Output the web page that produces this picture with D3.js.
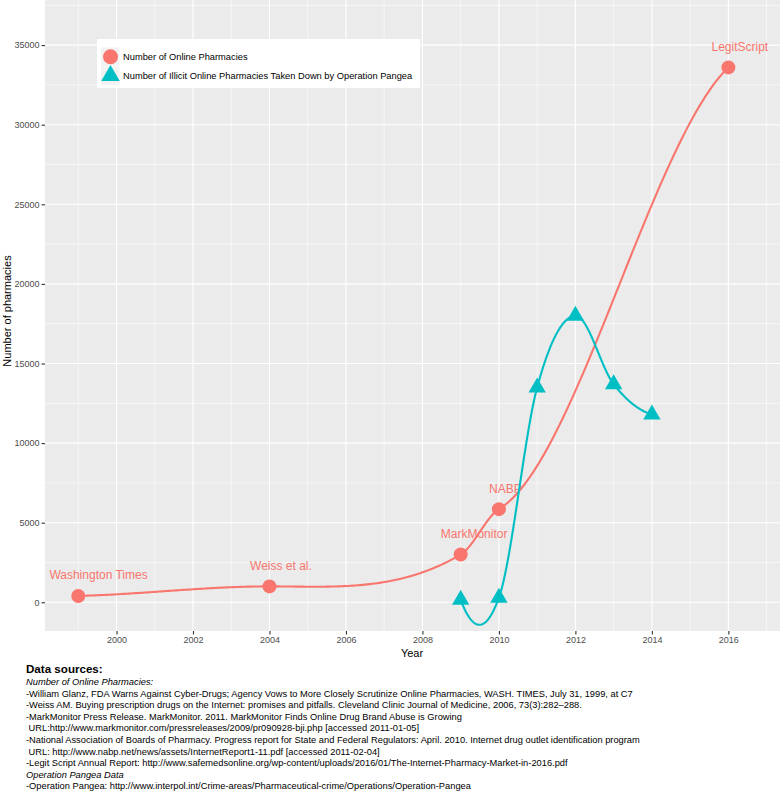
<!DOCTYPE html>
<html>
<head>
<meta charset="utf-8">
<script src="https://cdn.jsdelivr.net/npm/d3@7"></script>
<style>
  html, body { margin: 0; padding: 0; background: #ffffff; }
  svg { display: block; font-family: "Liberation Sans", Arial, Helvetica, sans-serif; }
</style>
</head>
<body>
<svg id="chart" width="781" height="795"></svg>
<script>
// ---------------- data ----------------
const onlineYears   = [1999, 2004, 2009, 2010, 2016];
const onlineValues  = [400, 1000, 3000, 5850, 33600];
const onlineLabels  = ["Washington Times", "Weiss et al.", "MarkMonitor", "NABP", "LegitScript"];
const onlineLabelYears = [1999.53, 2004.3, 2009.35, 2010.17, 2016.3];
const labelNudgeValue = 1300;

const pangeaYears  = [2009, 2010, 2011, 2012, 2013, 2014];
const pangeaValues = [153, 290, 13500, 18000, 13700, 11800];

const seriesNames = ["Number of Online Pharmacies", "Number of Illicit Online Pharmacies Taken Down by Operation Pangea"];
const xTickValues = [2000, 2002, 2004, 2006, 2008, 2010, 2012, 2014, 2016];
const xMinorValues = [1999, 2001, 2003, 2005, 2007, 2009, 2011, 2013, 2015, 2017];
const yTickValues = [0, 5000, 10000, 15000, 20000, 25000, 30000, 35000];
const yMinorValues = [2500, 7500, 12500, 17500, 22500, 27500, 32500, 37500];

const xTitle = "Year";
const yTitle = "Number of pharmacies";

const sourceLines = [
  {t: "Data sources:", style: "bold"},
  {t: "Number of Online Pharmacies:", style: "italic"},
  {t: "-William Glanz, FDA Warns Against Cyber-Drugs; Agency Vows to More Closely Scrutinize Online Pharmacies, WASH. TIMES, July 31, 1999, at C7", style: "normal"},
  {t: "-Weiss AM. Buying prescription drugs on the Internet: promises and pitfalls. Cleveland Clinic Journal of Medicine, 2006, 73(3):282\u2013288.", style: "normal"},
  {t: "-MarkMonitor Press Release. MarkMonitor. 2011. MarkMonitor Finds Online Drug Brand Abuse is Growing", style: "normal"},
  {t: " URL:http://www.markmonitor.com/pressreleases/2009/pr090928-bji.php [accessed 2011-01-05]", style: "normal"},
  {t: "-National Association of Boards of Pharmacy. Progress report for State and Federal Regulators: April. 2010. Internet drug outlet identification program", style: "normal"},
  {t: " URL: http://www.nabp.net/news/assets/InternetReport1-11.pdf [accessed 2011-02-04]", style: "normal"},
  {t: "-Legit Script Annual Report: http://www.safemedsonline.org/wp-content/uploads/2016/01/The-Internet-Pharmacy-Market-in-2016.pdf", style: "normal"},
  {t: "Operation Pangea Data", style: "italic"},
  {t: "-Operation Pangea: http://www.interpol.int/Crime-areas/Pharmaceutical-crime/Operations/Operation-Pangea", style: "normal"}
];

// ---------------- loess smoother (span 0.75, degree 2, vertex interpolation) ----------------
function jacobiEigen(M) {
  const n = M.length;
  const A = M.map(r => r.slice());
  const V = A.map((r, i) => r.map((_, j) => (i === j ? 1 : 0)));
  for (let sweep = 0; sweep < 60; sweep++) {
    let off = 0;
    for (let p = 0; p < n; p++) for (let q = p + 1; q < n; q++) off += A[p][q] * A[p][q];
    if (off < 1e-30) break;
    for (let p = 0; p < n; p++) for (let q = p + 1; q < n; q++) {
      if (Math.abs(A[p][q]) < 1e-300) continue;
      const theta = (A[q][q] - A[p][p]) / (2 * A[p][q]);
      const t = Math.sign(theta || 1) / (Math.abs(theta) + Math.sqrt(theta * theta + 1));
      const c = 1 / Math.sqrt(t * t + 1), s = t * c;
      for (let k = 0; k < n; k++) {
        const akp = A[k][p], akq = A[k][q];
        A[k][p] = c * akp - s * akq; A[k][q] = s * akp + c * akq;
      }
      for (let k = 0; k < n; k++) {
        const apk = A[p][k], aqk = A[q][k];
        A[p][k] = c * apk - s * aqk; A[q][k] = s * apk + c * aqk;
      }
      for (let k = 0; k < n; k++) {
        const vkp = V[k][p], vkq = V[k][q];
        V[k][p] = c * vkp - s * vkq; V[k][q] = s * vkp + c * vkq;
      }
    }
  }
  return {values: A.map((r, i) => r[i]), vectors: V};
}
function localFit(xs, ys, x0, span) {
  const n = xs.length;
  const q = Math.min(n, Math.floor(n * span + 1e-5));
  const dist = xs.map(v => Math.abs(v - x0));
  const rho = dist.slice().sort((a, b) => a - b)[q - 1];
  const rows = [], rhs = [];
  xs.forEach((v, i) => {
    const w = dist[i] < rho ? Math.pow(1 - Math.pow(dist[i] / rho, 3), 3) : 0;
    const sw = Math.sqrt(w), dx = v - x0;
    rows.push([sw, sw * dx, sw * dx * dx]);
    rhs.push(sw * ys[i]);
  });
  const cn = [0, 1, 2].map(k => Math.sqrt(d3.sum(rows, r => r[k] * r[k])) || 1);
  const A = rows.map(r => r.map((v, k) => v / cn[k]));
  const M = [0, 1, 2].map(i => [0, 1, 2].map(j => d3.sum(A, r => r[i] * r[j])));
  const b = [0, 1, 2].map(i => d3.sum(A, (r, k) => r[i] * rhs[k]));
  const eig = jacobiEigen(M);
  const lmax = d3.max(eig.values.map(Math.abs));
  const g = [0, 0, 0];
  eig.values.forEach((lam, k) => {
    if (Math.abs(lam) <= 1e-10 * lmax) return;
    const vk = eig.vectors.map(r => r[k]);
    const coef = d3.sum(vk, (v, i) => v * b[i]) / lam;
    for (let i = 0; i < 3; i++) g[i] += coef * vk[i];
  });
  return {value: g[0] / cn[0], slope: g[1] / cn[1]};
}
function loessCurve(xs, ys, span, perSeg) {
  const fits = xs.map(v => localFit(xs, ys, v, span));
  const out = [];
  for (let i = 0; i < xs.length - 1; i++) {
    const h = xs[i + 1] - xs[i];
    const y0 = fits[i].value, y1 = fits[i + 1].value, m0 = fits[i].slope, m1 = fits[i + 1].slope;
    for (let j = 0; j < perSeg; j++) {
      const t = j / perSeg, t2 = t * t, t3 = t2 * t;
      out.push([xs[i] + t * h,
        (2 * t3 - 3 * t2 + 1) * y0 + (t3 - 2 * t2 + t) * h * m0 + (-2 * t3 + 3 * t2) * y1 + (t3 - t2) * h * m1]);
    }
  }
  out.push([xs[xs.length - 1], fits[xs.length - 1].value]);
  return out;
}

// ---------------- layout ----------------
const svg = d3.select("#chart");
const panel = {left: 45, right: 780, top: 0, bottom: 631};
const red = "#F8766D", teal = "#00BFC4";

const x = d3.scaleLinear().domain([1998.13, 2017.35]).range([panel.left, panel.right]);
const y = d3.scaleLinear().domain([-1803, 37833]).range([panel.bottom, panel.top]);

svg.append("rect").attr("x", panel.left).attr("y", panel.top)
  .attr("width", panel.right - panel.left).attr("height", panel.bottom - panel.top)
  .attr("fill", "#EBEBEB");

const grid = svg.append("g");
grid.selectAll(".xmin").data(xMinorValues).join("line")
  .attr("x1", d => x(d)).attr("x2", d => x(d)).attr("y1", panel.top).attr("y2", panel.bottom)
  .attr("stroke", "#fff").attr("stroke-width", 0.55);
grid.selectAll(".ymin").data(yMinorValues).join("line")
  .attr("y1", d => y(d)).attr("y2", d => y(d)).attr("x1", panel.left).attr("x2", panel.right)
  .attr("stroke", "#fff").attr("stroke-width", 0.55);
grid.selectAll(".xmaj").data(xTickValues).join("line")
  .attr("x1", d => x(d)).attr("x2", d => x(d)).attr("y1", panel.top).attr("y2", panel.bottom)
  .attr("stroke", "#fff").attr("stroke-width", 1.1);
grid.selectAll(".ymaj").data(yTickValues).join("line")
  .attr("y1", d => y(d)).attr("y2", d => y(d)).attr("x1", panel.left).attr("x2", panel.right)
  .attr("stroke", "#fff").attr("stroke-width", 1.1);

// axes
const xAxis = d3.axisBottom(x).tickValues(xTickValues).tickFormat(d3.format("d")).tickSize(3.5).tickPadding(2.5);
const gx = svg.append("g").attr("transform", `translate(0,${panel.bottom})`).call(xAxis);
gx.select(".domain").remove();
gx.selectAll("line").attr("stroke", "#333333").attr("stroke-width", 1.1);
gx.selectAll("text").attr("fill", "#4D4D4D").attr("font-size", 9).attr("font-family", "Liberation Sans, Arial, sans-serif");

const yAxis = d3.axisLeft(y).tickValues(yTickValues).tickFormat(d3.format("d")).tickSize(3.5).tickPadding(2);
const gy = svg.append("g").attr("transform", `translate(${panel.left},0)`).call(yAxis);
gy.select(".domain").remove();
gy.selectAll("line").attr("stroke", "#333333").attr("stroke-width", 1.1);
gy.selectAll("text").attr("fill", "#4D4D4D").attr("font-size", 9).attr("font-family", "Liberation Sans, Arial, sans-serif");

svg.append("text").attr("x", 412).attr("y", 657).attr("text-anchor", "middle")
  .attr("font-size", 11).attr("fill", "#000").text(xTitle);
svg.append("text").attr("transform", "translate(11,311) rotate(-90)").attr("text-anchor", "middle")
  .attr("font-size", 11).attr("fill", "#000").text(yTitle);

// smoothed lines + marks
const line = d3.line().x(d => x(d[0])).y(d => y(d[1]));
const plot = svg.append("g");
plot.append("path").datum(loessCurve(onlineYears, onlineValues, 0.75, 80))
  .attr("d", line).attr("fill", "none").attr("stroke", red).attr("stroke-width", 2.1);

const onlineData = onlineYears.map((yr, i) => ({yr, v: onlineValues[i], lab: onlineLabels[i], ly: onlineLabelYears[i]}));
plot.selectAll(".pt").data(onlineData).join("circle")
  .attr("cx", d => x(d.yr)).attr("cy", d => y(d.v)).attr("r", 7).attr("fill", red);
plot.selectAll(".lab").data(onlineData).join("text")
  .attr("x", d => x(d.ly)).attr("y", d => y(d.v + labelNudgeValue) + 4.2)
  .attr("text-anchor", "middle").attr("font-size", 12).attr("fill", red).text(d => d.lab);

plot.append("path").datum(loessCurve(pangeaYears, pangeaValues, 0.75, 80))
  .attr("d", line).attr("fill", "none").attr("stroke", teal).attr("stroke-width", 2.1);

function triPath(cx, cy, r) {
  const xc = r * 0.8661, yc = r / 2;
  return `M${cx},${cy - r}L${cx + xc},${cy + yc}L${cx - xc},${cy + yc}Z`;
}
const pangeaData = pangeaYears.map((yr, i) => ({yr, v: pangeaValues[i]}));
plot.selectAll(".tri").data(pangeaData).join("path")
  .attr("d", d => triPath(x(d.yr), y(d.v), 10)).attr("fill", teal);

// legend
const lg = svg.append("g");
lg.append("rect").attr("x", 97).attr("y", 39).attr("width", 323).attr("height", 49).attr("fill", "#fff");
lg.append("rect").attr("x", 101).attr("y", 47.5).attr("width", 18.5).attr("height", 18.5).attr("fill", "#F2F2F2");
lg.append("rect").attr("x", 101).attr("y", 66.5).attr("width", 18.5).attr("height", 18.5).attr("fill", "#F2F2F2");
lg.append("circle").attr("cx", 110.5).attr("cy", 56.7).attr("r", 7.5).attr("fill", red);
lg.append("path").attr("d", triPath(110.5, 75.7, 10.7)).attr("fill", teal);
lg.selectAll(".lt").data(seriesNames).join("text")
  .attr("x", 123).attr("y", (d, i) => 56.7 + i * 19 + 3.3)
  .attr("font-size", 9.3).attr("fill", "#000").text(d => d);

// sources
const src = svg.append("g");
src.selectAll("text").data(sourceLines).join("text")
  .attr("x", 26)
  .attr("y", (d, i) => i === 0 ? 673 : 681.7 + (i - 1) * 11.6 + 3.3)
  .attr("font-size", d => d.style === "bold" ? 11.6 : 9.3)
  .attr("font-weight", d => d.style === "bold" ? "bold" : "normal")
  .attr("font-style", d => d.style === "italic" ? "italic" : "normal")
  .attr("fill", "#000")
  .style("white-space", "pre")
  .text(d => d.t);
</script>
</body>
</html>
